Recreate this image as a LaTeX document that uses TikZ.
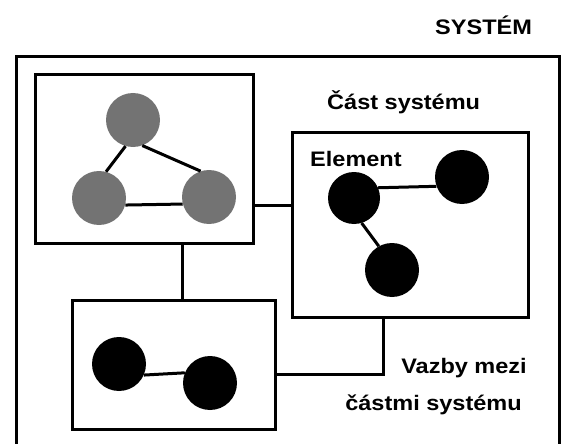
\documentclass[tikz,border=0pt]{standalone}
\usepackage{fontspec}
\setmainfont{Liberation Sans}
\newcommand{\widetxt}[1]{\scalebox{1.12}[1]{#1}}
\begin{document}
\begin{tikzpicture}[x=1pt,y=-1pt,
  box/.style={draw, line width=3pt, inner sep=0pt},
  link/.style={line width=3pt},
  grayel/.style={circle, fill=black!55, minimum size=54pt, inner sep=0pt},
  blackel/.style={circle, fill=black, minimum size=54pt, inner sep=0pt},
  lbl/.style={font=\bfseries\fontsize{21}{25}\selectfont, inner sep=0pt, anchor=base west},
  lblr/.style={lbl, anchor=base east}]
\useasboundingbox (0,0) rectangle (563,444);
\clip (0,0) rectangle (563,444);
% outer system box
\node[box, minimum width=543pt, minimum height=413pt] (sys) at (287.5,263.5) {};
% parts
\node[box, minimum width=218pt, minimum height=168pt] (A) at (144,159) {};
\node[box, minimum width=236pt, minimum height=184pt] (B) at (410,225) {};
\node[box, minimum width=203pt, minimum height=129pt] (C) at (173.5,364.5) {};
% helper coordinates
\coordinate (hAB) at (0,205);
\coordinate (vAC) at (182,0);
\coordinate (hCB) at (0,374);
\coordinate (vCB) at (383,0);
% connectors between parts
\draw[link] (A.east |- hAB) -- (B.west |- hAB);
\draw[link] (A.south -| vAC) -- (C.north -| vAC);
\draw[link] (C.east |- hCB) -| (B.south -| vCB);
% elements in A
\node[grayel] (a1) at (133,120) {};
\node[grayel] (a2) at (99,198) {};
\node[grayel] (a3) at (209,197) {};
% elements in B
\node[blackel, minimum size=52pt] (b1) at (354,198) {};
\node[blackel] (b2) at (462,177) {};
\node[blackel] (b3) at (392,270) {};
% elements in C
\node[blackel] (c1) at (119,364) {};
\node[blackel] (c2) at (210,383) {};
% element links
\draw[link] (a1.-106) -- (a2.75);
\draw[link] (a1.-70) -- (a3.108);
\draw[link] (a2.-15) -- (a3.195);
\draw[link] (b1.23) -- (b2.200);
\draw[link] (b1.-73) -- (b3.119);
\draw[link] (c1.-24) -- (c2.158);
% labels
\node[lbl] (tsys) at (435,35) {\widetxt{SYSTÉM}};
\node[lbl] (tpart) at (327,110) {\widetxt{Část systému}};
\node[lbl] (tel) at (310,167) {\widetxt{Element}};
\node[lblr] (tv1) at (527,373) {\widetxt{Vazby mezi}};
\node[lblr] (tv2) at (522,410) {\widetxt{částmi systému}};
\end{tikzpicture}
\end{document}
